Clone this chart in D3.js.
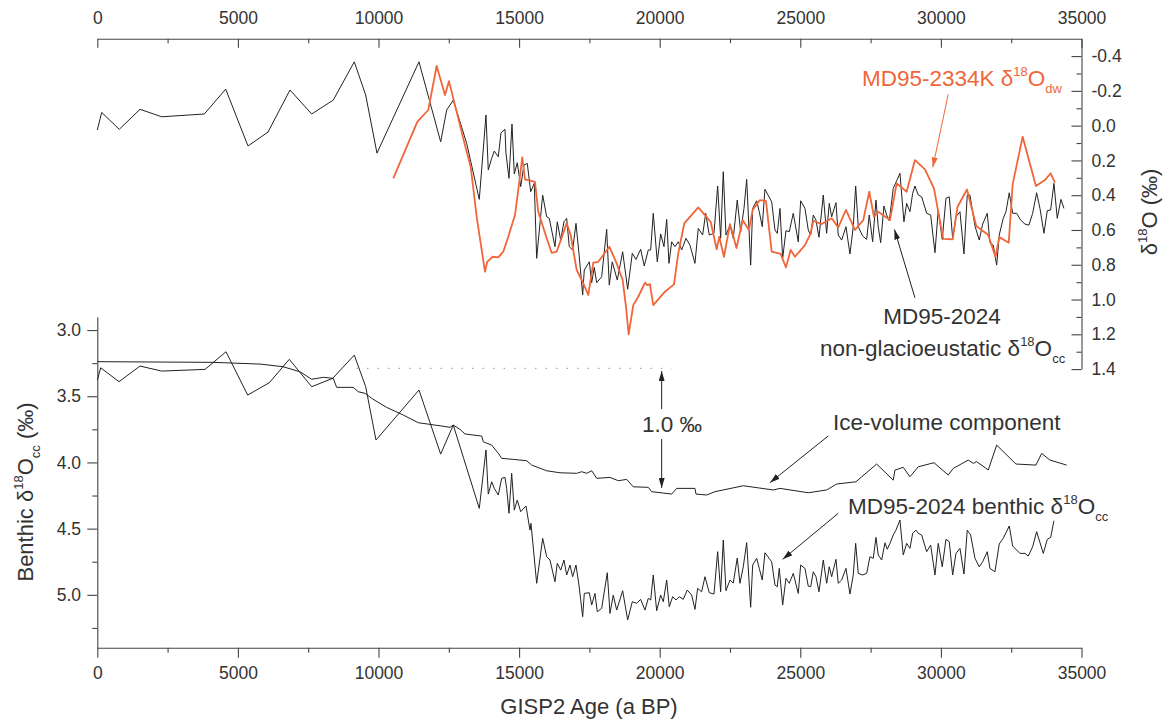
<!DOCTYPE html>
<html>
<head>
<meta charset="utf-8">
<script src="https://cdn.jsdelivr.net/npm/d3@7"></script>
<style>
  body { margin: 0; background: #fff; }
  svg text { font-family: "Liberation Sans", Arial, sans-serif; }
</style>
</head>
<body>
<svg id="chart" width="1163" height="720"></svg>
<script>
// MD95-2024 non-glacioeustatic d18O (upper panel, right axis)
const nonGlacAge = [0,156,782,1518,2290,3805,4566,5359,6070,6852,
  7624,8392,9139,9544,9946,11440,12211,12425,12659,13136,
  13584,13822,13904,14025,14117,14260,14356,14498,14533,14640,
  14747,14829,14935,15056,15173,15291,15412,15540,15625,15838,
  15981,16073,16276,16358,16479,16596,16692,16784,16905,17023,
  17129,17261,17318,17496,17581,17673,17759,17936,18114,18207,
  18313,18491,18683,18861,19025,19156,19323,19451,19594,19679,
  19771,19914,20035,20152,20248,20330,20426,20543,20661,20781,
  20934,21076,21254,21372,21528,21635,21763,21930,22061,22168,
  22261,22357,22499,22616,22758,22879,22997,23093,23235,23306,
  23448,23541,23647,23743,23982,24099,24181,24277,24373,24490,
  24608,24750,24928,25013,25166,25283,25369,25461,25557,25664,
  25817,25937,26030,26115,26268,26350,26471,26624,26766,26883,
  26969,27061,27218,27360,27452,27573,27691,27772,27858,27975,
  28071,28164,28306,28427,28544,28686,28782,28900,28996,29077,
  29195,29316,29494,29636,29789,29906,30048,30180,30297,30418,
  30536,30678,30820,30937,31033,31211,31364,31485,31648,31744,
  31862,31983,32075,32217,32313,32431,32552,32694,32836,32989,
  33131,33263,33405,33523,33665,33782,33903,34020,34138,34269,
  34376]
const nonGlacVal = [0.025,-0.076,0.021,-0.094,-0.051,-0.067,-0.21,0.117,0.037,-0.205,
  -0.067,-0.147,-0.367,-0.176,0.158,-0.367,0.093,-0.09,-0.147,0.102,
  0.424,-0.061,0.255,0.188,0.146,0.179,0.041,0.021,0.158,0.303,
  -0.009,0.278,0.213,0.351,0.227,0.217,0.38,0.332,0.763,0.399,
  0.524,0.533,0.696,0.553,0.658,0.553,0.533,0.696,0.715,0.562,
  0.734,0.974,0.83,0.783,0.903,0.815,0.903,0.869,0.596,0.917,
  0.783,0.888,0.725,0.941,0.734,0.769,0.711,0.807,0.715,0.715,
  0.504,0.783,0.623,0.696,0.539,0.792,0.668,0.696,0.668,0.715,
  0.648,0.687,0.792,0.591,0.629,0.504,0.629,0.619,0.347,0.648,
  0.265,0.629,0.572,0.648,0.428,0.61,0.476,0.309,0.802,0.476,
  0.432,0.495,0.581,0.366,0.438,0.6,0.619,0.476,0.763,0.604,
  0.61,0.504,0.668,0.432,0.476,0.6,0.629,0.514,0.543,0.642,
  0.399,0.619,0.447,0.524,0.443,0.629,0.658,0.581,0.738,0.581,
  0.347,0.581,0.635,0.654,0.514,0.668,0.428,0.581,0.673,0.462,
  0.514,0.547,0.361,0.317,0.274,0.553,0.447,0.495,0.389,0.347,
  0.399,0.409,0.504,0.514,0.731,0.485,0.654,0.418,0.409,0.648,
  0.524,0.495,0.738,0.399,0.399,0.577,0.658,0.566,0.504,0.673,
  0.687,0.802,0.629,0.533,0.495,0.386,0.504,0.504,0.543,0.566,
  0.572,0.504,0.386,0.476,0.619,0.489,0.485,0.332,0.533,0.424,
  0.476]

// MD95-2334K d18O dw (upper panel, orange)
const dwAge = [10526,11379,11770,12069,12364,12506,13075,13278,13491,13644,
  13787,13868,14060,14260,14437,14615,14853,14971,15113,15209,
  15565,15682,15981,16158,16336,16692,16834,17047,17261,17460,
  17638,17816,18207,18470,18683,18801,18897,19060,19238,19476,
  19558,19654,19771,20187,20508,20661,20874,21372,21813,22026,
  22118,22285,22499,22730,22950,23174,23306,23566,23779,23982,
  24302,24490,24657,24810,25166,25369,25461,25760,26115,26350,
  26624,26944,27239,27452,27620,27772,28189,28427,28782,29077,
  29433,29753,30084,30418,30589,30927,31257,31684,31940,32075,
  32413,32552,32907,33380,33700,33903,34056]
const dwVal = [0.303,-0.022,-0.09,-0.343,-0.176,-0.256,0.112,0.236,0.524,0.687,
  0.84,0.783,0.754,0.757,0.725,0.639,0.514,0.37,0.182,0.309,
  0.323,0.495,0.648,0.731,0.725,0.562,0.629,0.83,0.898,0.974,
  0.788,0.783,0.696,0.792,0.888,1.041,1.2,1.032,0.984,0.903,
  0.917,0.911,1.032,0.955,0.913,0.734,0.562,0.47,0.553,0.711,
  0.639,0.754,0.566,0.704,0.543,0.6,0.485,0.428,0.432,0.725,
  0.738,0.815,0.715,0.754,0.687,0.619,0.547,0.566,0.533,0.585,
  0.485,0.6,0.543,0.38,0.524,0.495,0.543,0.332,0.38,0.198,
  0.251,0.361,0.651,0.654,0.468,0.367,0.577,0.629,0.754,0.641,
  0.673,0.336,0.064,0.347,0.313,0.274,0.328]

// ice-volume component (lower panel)
const iceAge = [0,4114,5786,6603,7208,7624,8037,8392,8513,9103,
  9281,9519,9758,10053,10291,10881,11415,12247,12542,12659,
  12898,13075,13669,13726,14025,14260,14380,14793,15270,15447,
  15981,16454,17047,17225,17403,17581,17759,18232,18527,18826,
  19060,19594,19714,20426,20603,21254,21290,21670,21965,22972,
  24039,24277,25283,25937,26293,26979,27715,28306,28366,28661,
  28900,29195,29753,30262,30439,30973,31151,31272,31684,31983,
  32669,33380,33583,33878,34472]
const iceVal = [3.239,3.244,3.257,3.277,3.315,3.372,3.357,3.365,3.433,3.433,
  3.466,3.478,3.516,3.554,3.584,3.642,3.7,3.725,3.735,3.718,
  3.75,3.785,3.801,3.844,3.869,3.931,3.969,3.977,3.987,4.02,
  4.063,4.078,4.082,4.07,4.082,4.063,4.12,4.113,4.138,4.128,
  4.184,4.188,4.221,4.239,4.196,4.196,4.239,4.246,4.221,4.176,
  4.208,4.196,4.229,4.208,4.163,4.146,4.012,4.134,4.058,4.037,
  4.108,4.033,4.002,4.095,4.045,3.982,4.007,3.994,4.057,3.869,
  4.012,4.02,3.932,3.982,4.02]

// MD95-2024 benthic d18O cc (lower panel)
const benthicAge = [0,121,772,1518,2290,3830,4577,5348,6116,6828,
  7624,8371,9139,9544,9911,11440,12211,12659,13584,13822,
  13904,14025,14117,14260,14380,14498,14558,14640,14736,14829,
  14935,15056,15245,15387,15422,15625,15838,15981,16098,16276,
  16358,16479,16596,16692,16810,16905,17023,17129,17261,17318,
  17496,17581,17698,17780,17936,18136,18232,18349,18470,18683,
  18861,19025,19181,19323,19476,19594,19679,19771,19892,20035,
  20127,20248,20340,20461,20579,20696,20838,20980,21137,21254,
  21350,21492,21610,21763,21930,22061,22168,22261,22357,22499,
  22616,22758,22854,22972,23093,23235,23306,23448,23541,23647,
  23743,23982,24099,24181,24252,24373,24490,24608,24750,24928,
  25013,25166,25283,25369,25461,25557,25664,25817,25937,26030,
  26115,26268,26350,26471,26624,26766,26883,26969,27061,27218,
  27360,27477,27595,27691,27772,27893,28011,28092,28189,28306,
  28402,28544,28661,28782,28900,28996,29113,29195,29316,29494,
  29636,29789,29906,30048,30180,30297,30418,30536,30678,30820,
  30937,31058,31211,31364,31485,31648,31744,31922,32075,32217,
  32431,32552,32811,32989,33107,33263,33405,33641,33782,33903,
  34020]
const benthicVal = [3.378,3.285,3.39,3.272,3.31,3.297,3.164,3.491,3.398,3.221,
  3.428,3.365,3.189,3.428,3.831,3.453,3.937,3.718,4.347,3.906,
  4.239,4.146,4.196,4.246,4.12,4.113,4.196,4.384,4.082,4.36,
  4.284,4.372,4.329,4.511,4.46,4.913,4.573,4.712,4.737,4.901,
  4.762,4.813,4.737,4.85,4.775,4.863,4.775,4.926,5.165,4.989,
  4.984,5.077,4.989,5.128,5.102,4.833,5.14,5.002,5.115,4.969,
  5.19,5.052,5.064,5.034,5.115,5.026,5.039,4.85,5.12,5.002,
  5.052,4.888,5.09,5.014,5.039,5.014,5.034,4.964,5.002,5.11,
  4.951,4.977,4.863,4.984,4.994,4.674,4.977,4.586,4.969,4.888,
  4.911,4.722,4.913,4.788,4.606,5.094,4.775,4.724,4.8,4.888,
  4.682,4.75,4.926,4.939,4.8,5.077,4.875,4.913,4.838,4.989,
  4.775,4.8,4.934,4.939,4.826,4.863,4.977,4.737,4.913,4.788,
  4.863,4.732,4.913,4.888,4.8,4.994,4.85,4.611,4.838,4.85,
  4.838,4.712,4.724,4.566,4.699,4.737,4.607,4.656,4.611,4.548,
  4.511,4.435,4.699,4.611,4.649,4.535,4.511,4.535,4.548,4.674,
  4.624,4.85,4.611,4.788,4.581,4.599,4.85,4.687,4.649,4.843,
  4.511,4.548,4.724,4.788,4.75,4.674,4.8,4.826,4.616,4.573,
  4.48,4.631,4.687,4.687,4.707,4.637,4.523,4.687,4.581,4.566,
  4.44]

// ticks
const ageTicks = [0,5000,10000,15000,20000,25000,30000,35000]
const ageMinor = [2500,7500,12500,17500,22500,27500,32500]
const topTicks = [-0.4,-0.2,0,0.2,0.4,0.6,0.8,1.0,1.2,1.4]
const topMinor = [-0.3,-0.1,0.1,0.3,0.5,0.7,0.9,1.1,1.3]
const botTicks = [3.0,3.5,4.0,4.5,5.0]
const botMinor = [3.25,3.75,4.25,4.75,5.25]

const orange = '#f0663a',
    ink = '#222',
    axisColor = '#444',
    textColor = '#333'

const svg = d3.select('#chart')

// Scales
let x = d3.scaleLinear().domain([0, 35000]).range([97.3, 1081.5])
let yTop = d3.scaleLinear().domain([-0.5, 1.4]).range([38.7, 369.1])
let yBot = d3.scaleLinear().domain([2.9, 5.4]).range([316.8, 647.8])

const fmt1 = d => d.toFixed(1)

function styleAxis(g) {
    g.attr('font-size', 17.5).attr('font-family', null)
    g.selectAll('.domain').attr('stroke', axisColor).attr('stroke-width', 1.1)
    g.selectAll('.tick line').attr('stroke', axisColor).attr('stroke-width', 1.1)
    g.selectAll('.tick text').attr('fill', textColor)
}
function minor(axis, transform) {
    svg.append('g').attr('transform', transform)
        .call(axis.tickFormat('').tickSizeOuter(0))
        .call(g => g.select('.domain').remove())
        .call(g => g.selectAll('.tick line').attr('stroke', axisColor).attr('stroke-width', 1.1))
}

// Top X axis
svg.append('g').attr('transform', 'translate(0,38.7)')
    .call(d3.axisTop(x).tickValues(ageTicks).tickSizeInner(-9).tickSizeOuter(0).tickPadding(14.5).tickFormat(d3.format('d')))
    .call(styleAxis)
minor(d3.axisTop(x).tickValues(ageMinor).tickSizeInner(-4.5), 'translate(0,38.7)')

// Bottom X axis
svg.append('g').attr('transform', 'translate(0,647.8)')
    .call(d3.axisBottom(x).tickValues(ageTicks).tickSize(10).tickSizeOuter(0).tickPadding(9).tickFormat(d3.format('d')))
    .call(styleAxis)
minor(d3.axisBottom(x).tickValues(ageMinor).tickSizeInner(5), 'translate(0,647.8)')

// Right Y axis (upper panel)
svg.append('g').attr('transform', 'translate(1081.5,0)')
    .call(d3.axisRight(yTop).tickValues(topTicks).tickSizeInner(-10).tickSizeOuter(0).tickPadding(10).tickFormat(fmt1))
    .call(styleAxis)
minor(d3.axisRight(yTop).tickValues(topMinor).tickSizeInner(-5), 'translate(1081.5,0)')

// Left Y axis (lower panel)
svg.append('g').attr('transform', 'translate(97.3,0)')
    .call(d3.axisLeft(yBot).tickValues(botTicks).tickSize(10).tickSizeOuter(0).tickPadding(6.3).tickFormat(fmt1))
    .call(styleAxis)
minor(d3.axisLeft(yBot).tickValues(botMinor).tickSizeInner(5), 'translate(97.3,0)')

// Lines
const series = [
    {age: iceAge, val: iceVal, y: yBot, color: ink, w: 1},
    {age: benthicAge, val: benthicVal, y: yBot, color: ink, w: 1},
    {age: nonGlacAge, val: nonGlacVal, y: yTop, color: ink, w: 1},
    {age: dwAge, val: dwVal, y: yTop, color: orange, w: 1.8}
]
series.forEach(s => {
    let pts = s.age.map((a, i) => [a, s.val[i]])
    svg.append('path')
        .datum(pts)
        .attr('fill', 'none')
        .attr('stroke', s.color)
        .attr('stroke-width', s.w)
        .attr('stroke-linejoin', 'round')
        .attr('d', d3.line().x(d => x(d[0])).y(d => s.y(d[1])))
})

// Arrow markers
let defs = svg.append('defs')
;[['arrBlack', ink], ['arrOrange', orange]].forEach(([id, c]) => {
    defs.append('marker')
        .attr('id', id)
        .attr('viewBox', '0 0 10 6')
        .attr('refX', 10).attr('refY', 3)
        .attr('markerWidth', 10).attr('markerHeight', 6)
        .attr('markerUnits', 'userSpaceOnUse')
        .attr('orient', 'auto')
        .append('path').attr('d', 'M0,0L10,3L0,6Z').attr('fill', c)
})

function arrow(from, to, ys, color, marker) {
    svg.append('line')
        .attr('x1', x(from[0])).attr('y1', ys(from[1]))
        .attr('x2', x(to[0])).attr('y2', ys(to[1]))
        .attr('stroke', color).attr('stroke-width', 1)
        .attr('marker-end', 'url(#' + marker + ')')
}

arrow([30260, -0.18], [29710, 0.24], yTop, orange, 'arrOrange')
arrow([29077, 0.99], [28348, 0.597], yTop, ink, 'arrBlack')
arrow([25994, 3.80], [23921, 4.153], yBot, ink, 'arrBlack')
arrow([26350, 4.384], [24373, 4.732], yBot, ink, 'arrBlack')
// 1.0 per mil double arrow
arrow([20070, 3.597], [20070, 3.31], yBot, ink, 'arrBlack')
arrow([20070, 3.823], [20070, 4.193], yBot, ink, 'arrBlack')

// dotted reference level
svg.append('line')
    .attr('x1', x(9224)).attr('x2', x(20436))
    .attr('y1', yBot(3.289)).attr('y2', yBot(3.289))
    .attr('stroke', '#777').attr('stroke-width', 1)
    .attr('stroke-dasharray', '1.2,9.3')

// Rich text with sub/superscripts
function rich(px, py, parts, fill, anchor, rotate, size) {
    let t = svg.append('text')
        .attr('x', px).attr('y', py)
        .attr('font-size', size || 22.5)
        .attr('fill', fill)
        .attr('text-anchor', anchor || 'start')
    if (rotate) t.attr('transform', 'rotate(' + rotate + ',' + px + ',' + py + ')')
    let cur = 0
    parts.forEach(([s, k]) => {
        let off = k === 'sup' ? -10 : k === 'sub' ? 7 : 0
        t.append('tspan').attr('dy', off - cur).attr('font-size', k ? 13 : null).text(s)
        cur = off
    })
}

rich(862, 86, [['MD95-2334K δ'], ['18', 'sup'], ['O'], ['dw', 'sub']], orange)
rich(942, 324, [['MD95-2024']], textColor, 'middle')
rich(820, 356, [['non-glacioeustatic δ'], ['18', 'sup'], ['O'], ['cc', 'sub']], textColor)
rich(833, 430, [['Ice-volume component']], textColor)
rich(848, 514, [['MD95-2024 benthic δ'], ['18', 'sup'], ['O'], ['cc', 'sub']], textColor)
rich(642, 432, [['1.0 ‰']], textColor)

// Axis titles
rich(589, 714, [['GISP2 Age (a BP)']], textColor, 'middle', null, 22)
rich(33, 492, [['Benthic δ'], ['18', 'sup'], ['O'], ['cc', 'sub'], [' (‰)']], textColor, 'middle', -90, 22)
rich(1157, 212, [['δ'], ['18', 'sup'], ['O (‰)']], textColor, 'middle', -90, 22)
</script>
</body>
</html>
